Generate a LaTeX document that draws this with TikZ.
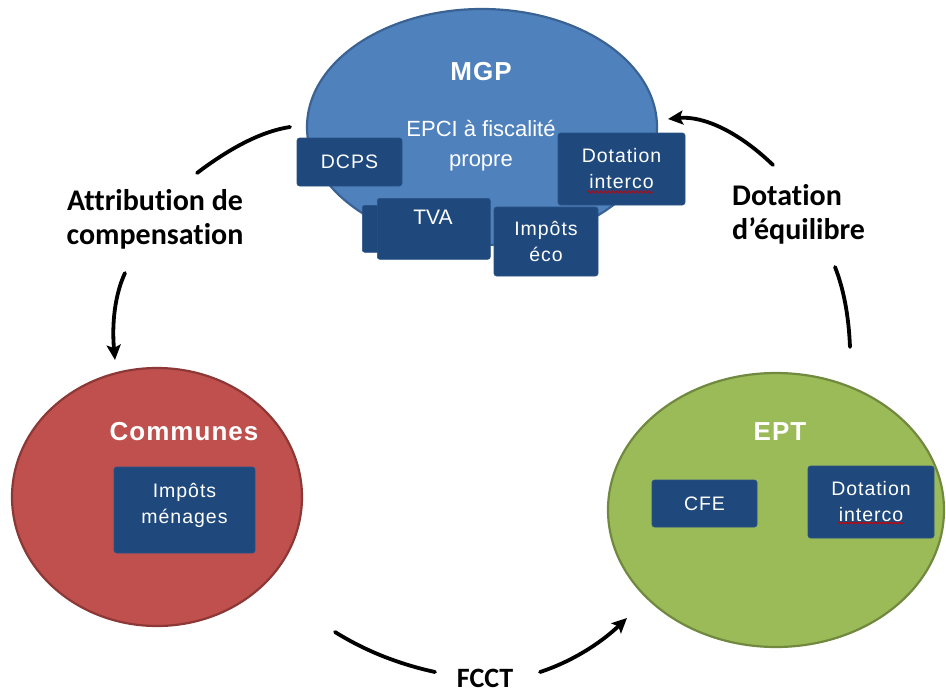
\documentclass[tikz,border=0pt]{standalone}
\usepackage{fontspec}
\setmainfont{Liberation Sans}
\newfontfamily\labelfont[Ligatures=NoCommon]{Carlito}
\usetikzlibrary{shapes.geometric,arrows.meta,decorations.pathmorphing}

\definecolor{mgpfill}{HTML}{4F81BD}
\definecolor{mgpline}{HTML}{3A6393}
\definecolor{comfill}{HTML}{C0504D}
\definecolor{comline}{HTML}{8C3836}
\definecolor{eptfill}{HTML}{9BBB59}
\definecolor{eptline}{HTML}{71893F}
\definecolor{boxfill}{HTML}{1F497D}
\definecolor{boxline}{HTML}{2A5286}

\tikzset{
  bubble/.style={ellipse, line width=2.2pt, inner sep=0pt},
  bubbletitle/.style={text=white,
    font=\fontsize{26}{30}\selectfont\bfseries\addfontfeature{LetterSpace=4}},
  taxbox/.style={rectangle, rounded corners=2.5pt, fill=boxfill, draw=boxline,
                 line width=0.6pt, inner sep=0pt},
  boxtext/.style={text=white, align=center,
    font=\fontsize{19.5}{26}\selectfont\addfontfeature{LetterSpace=5}},
  flowlabel/.style={text=black, inner sep=0pt,
    font=\labelfont\bfseries\fontsize{30}{34}\selectfont},
  flow/.style={line width=3.8pt, line cap=round},
  flowtip/.style={flow, -{Stealth[length=15pt,width=14pt,inset=3pt]}},
  spell/.style={draw=red!80!black, line width=0.8pt,
                decorate, decoration={snake, amplitude=1.1pt, segment length=4pt}}
}

\begin{document}
\begin{tikzpicture}[x=1pt,y=-1pt]
  \useasboundingbox (0,0) rectangle (946,693);

  % --- MGP (metropole) ---
  \node[bubble, fill=mgpfill, draw=mgpline, minimum width=350pt, minimum height=236pt]
    (mgp) at (482,127) {};
  \node[bubbletitle] (mgptitle) at (481,72) {MGP};
  \node[text=white, align=center, font=\fontsize{22}{30}\selectfont]
    (epci) at (481,146) {EPCI à fiscalité\\propre};

  \node[taxbox, minimum width=105pt, minimum height=48pt] (dcps) at (349.5,162) {};
  \node[boxtext] at (dcps) {DCPS};

  \node[taxbox, minimum width=127pt, minimum height=72pt] (dotmgp) at (621.5,169) {};
  \node[boxtext] at (dotmgp) {Dotation\\interco};

  \node[taxbox, anchor=north west, minimum width=60pt, minimum height=47pt] (tvaback) at (362,205) {};
  \node[taxbox, anchor=north west, minimum width=113pt, minimum height=61pt] (tva) at (377,198) {};
  \node[text=white, font=\fontsize{21}{26}\selectfont] at (433,217) {TVA};

  \node[taxbox, minimum width=104pt, minimum height=69pt] (eco) at (546,241.5) {};
  \node[boxtext] at (eco) {Impôts\\éco};

  % --- Communes ---
  \node[bubble, fill=comfill, draw=comline, minimum width=290pt, minimum height=258pt]
    (com) at (157,497) {};
  \node[bubbletitle] (comtitle) at (184,432) {Communes};
  \node[taxbox, minimum width=141pt, minimum height=86pt] (menages) at (184.5,510) {};
  \node[boxtext] at (184.5,505) {Impôts\\ménages};

  % --- EPT ---
  \node[bubble, fill=eptfill, draw=eptline, minimum width=336pt, minimum height=274pt]
    (ept) at (776,510) {};
  \node[bubbletitle] (epttitle) at (780,432) {EPT};
  \node[taxbox, minimum width=105pt, minimum height=47pt] (cfe) at (704.5,503.5) {};
  \node[boxtext] at (cfe) {CFE};
  \node[taxbox, minimum width=126pt, minimum height=72pt] (dotept) at (871,502) {};
  \node[boxtext] at (dotept) {Dotation\\interco};

  % spell-check underlines under "interco"
  \draw[spell] (587,192) -- (653,192);
  \draw[spell] (838,523) -- (903,523);

  % --- flow labels ---
  \node[flowlabel, align=center] (attr) at (155,219) {Attribution de\\compensation};
  \node[flowlabel, align=left, anchor=west] (dequ) at (732,214) {Dotation\\d’équilibre};
  \node[flowlabel, font=\labelfont\bfseries\fontsize{28}{32}\selectfont] (fcct) at (485,678) {FCCT};

  % --- flow ends ---
  \coordinate (a1) at (290,127);
  \coordinate (a2) at (197,173);
  \coordinate (a3) at (125,273);
  \coordinate (a4) at (115,360);
  \coordinate (d1) at (850,347);
  \coordinate (d2) at (835,267);
  \coordinate (d3) at (773,165);
  \coordinate (d4) at (668,119);
  \coordinate (f1) at (335,632);
  \coordinate (f2) at (435,672);
  \coordinate (f3) at (540,672);
  \coordinate (f4) at (627,618);

  % MGP -> Communes
  \draw[flow] (a1) .. controls (263.3,131) and (232.3,146.3) .. (a2);
  \draw[flowtip] (a3) .. controls (115,294.3) and (111.7,323.3) .. (a4);
  % EPT -> MGP
  \draw[flow] (d1) .. controls (848.7,315.7) and (843.7,289) .. (d2);
  \draw[flowtip] (d3) .. controls (737.7,131) and (702.7,115.7) .. (d4);
  % Communes -> EPT
  \draw[flow] (f1) .. controls (365,650.7) and (398.3,664) .. (f2);
  \draw[flowtip] (f3) .. controls (570.7,662) and (599.7,644) .. (f4);
\end{tikzpicture}
\end{document}
